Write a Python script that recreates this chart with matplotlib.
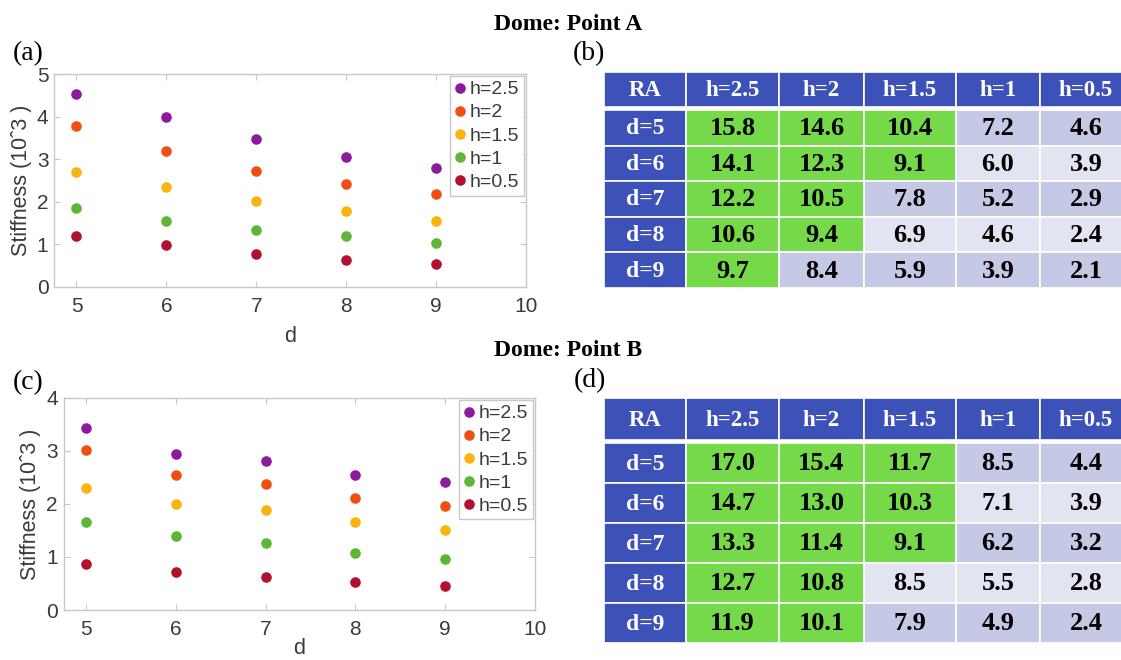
import matplotlib
matplotlib.use("Agg")
import matplotlib.pyplot as plt
from matplotlib.patches import Rectangle

# ---------------- data ----------------
d_values = [5, 6, 7, 8, 9]
h_labels = ["h=2.5", "h=2", "h=1.5", "h=1", "h=0.5"]
row_labels = ["d=5", "d=6", "d=7", "d=8", "d=9"]

# Stiffness (10^3) at point A, one list per h
stiff_a_h25 = [4.54, 4.00, 3.48, 3.04, 2.79]
stiff_a_h20 = [3.77, 3.19, 2.73, 2.42, 2.19]
stiff_a_h15 = [2.69, 2.34, 2.02, 1.78, 1.54]
stiff_a_h10 = [1.85, 1.55, 1.34, 1.19, 1.03]
stiff_a_h05 = [1.19, 0.99, 0.77, 0.63, 0.55]

# Stiffness (10^3) at point B
stiff_b_h25 = [3.43, 2.95, 2.82, 2.55, 2.41]
stiff_b_h20 = [3.01, 2.55, 2.37, 2.12, 1.96]
stiff_b_h15 = [2.30, 2.00, 1.88, 1.66, 1.51]
stiff_b_h10 = [1.66, 1.39, 1.27, 1.07, 0.96]
stiff_b_h05 = [0.86, 0.72, 0.63, 0.53, 0.46]

# RA tables (rows d=5..9, columns h=2.5..0.5)
ra_a = [
    [15.8, 14.6, 10.4, 7.2, 4.6],
    [14.1, 12.3, 9.1, 6.0, 3.9],
    [12.2, 10.5, 7.8, 5.2, 2.9],
    [10.6, 9.4, 6.9, 4.6, 2.4],
    [9.7, 8.4, 5.9, 3.9, 2.1],
]
ra_b = [
    [17.0, 15.4, 11.7, 8.5, 4.4],
    [14.7, 13.0, 10.3, 7.1, 3.9],
    [13.3, 11.4, 9.1, 6.2, 3.2],
    [12.7, 10.8, 8.5, 5.5, 2.8],
    [11.9, 10.1, 7.9, 4.9, 2.4],
]
ra_threshold = 9.0

# ---------------- style ----------------
W, H = 1121, 660
series_colors = ["#8c1a9c", "#f04e12", "#fbb30f", "#5db634", "#b2112d"]
axis_grey = "#c8c8c8"
tick_text = "#3a3a3a"
hdr_blue = "#3d52b8"
cell_green = "#76d94a"
lav_dark = "#c5c9e6"
lav_light = "#e2e4f2"

SANS = ["Liberation Sans", "DejaVu Sans"]
SERIF = ["Liberation Serif", "DejaVu Serif"]

fig = plt.figure(figsize=(W / 100, H / 100), dpi=100)
fig.patch.set_facecolor("white")


def px_axes(left, top, right, bottom):
    return fig.add_axes([left / W, 1 - bottom / H, (right - left) / W, (bottom - top) / H])


def scatter_panel(box, series, ymax, ylab_x, xlab_y):
    left, top, right, bottom = box
    ax = px_axes(left, top, right, bottom)
    for vals, col, lab in zip(series, series_colors, h_labels):
        ax.plot(d_values, vals, "o", ms=6.6, color=col, mec=col, label=lab)
    ax.set_xlim(4.75, 10)
    ax.set_ylim(0, ymax)
    ax.set_xticks([5, 6, 7, 8, 9, 10])
    ax.set_yticks(range(0, ymax + 1))
    for s in ax.spines.values():
        s.set_color(axis_grey)
        s.set_linewidth(1.0)
    ax.tick_params(direction="in", length=4, color=axis_grey, labelcolor=tick_text,
                   top=True, right=True, labelsize=15)
    ax.tick_params(axis="x", pad=7)
    ax.tick_params(axis="y", pad=4)
    for t in ax.get_xticklabels() + ax.get_yticklabels():
        t.set_family(SANS)
    leg = ax.legend(loc="upper right", prop={"family": SANS, "size": 14},
                    handlelength=0.5, handletextpad=0.25, borderpad=0.25,
                    labelspacing=0.28, borderaxespad=0.1, fancybox=False,
                    framealpha=1, edgecolor=axis_grey, markerscale=1.0)
    leg.get_frame().set_linewidth(1.0)
    for t in leg.get_texts():
        t.set_color(tick_text)
    fig.text(ylab_x / W, 1 - ((top + bottom) / 2) / H, "Stiffness (10ˆ3 )",
             rotation=90, ha="center", va="center", fontsize=15.5,
             family=SANS, color=tick_text)
    fig.text(((left + right) / 2) / W, 1 - xlab_y / H, "d", ha="center", va="center",
             fontsize=15.5, family=SANS, color=tick_text)
    return ax


def table_panel(left, top, header_h, gap, row_h, values):
    col_edges = [0, 82, 175, 260, 352, 436, 528]
    span_w = W - left
    total_h = header_h + gap + row_h * len(values)
    ax = px_axes(left, top, W, top + total_h)
    ax.set_xlim(0, span_w)
    ax.set_ylim(total_h, 0)
    ax.axis("off")

    def cell(ci, y0, h, face, text, color, size):
        x0, x1 = col_edges[ci], col_edges[ci + 1]
        ax.add_patch(Rectangle((x0, y0), x1 - x0, h, facecolor=face,
                               edgecolor="white", linewidth=1.2, clip_on=True))
        ax.text((x0 + x1) / 2, y0 + h / 2 + 1, text, ha="center", va="center",
                fontsize=size, fontweight="bold", family=SERIF, color=color)

    # header row
    for ci, lab in enumerate(["RA"] + h_labels):
        cell(ci, 0, header_h, hdr_blue, lab, "white", 16.5)
    # body rows
    for ri, (rlab, row) in enumerate(zip(row_labels, values)):
        y0 = header_h + gap + ri * row_h
        cell(0, y0, row_h, hdr_blue, rlab, "white", 17)
        base = lav_dark if ri % 2 == 0 else lav_light
        for ci, v in enumerate(row):
            face = cell_green if v >= ra_threshold else base
            cell(ci + 1, y0, row_h, face, f"{v:.1f}", "black", 19)
    return ax


# panel (a) and (c): stiffness scatter plots
scatter_panel((54, 74, 526, 287),
              [stiff_a_h25, stiff_a_h20, stiff_a_h15, stiff_a_h10, stiff_a_h05],
              5, 22, 337)
scatter_panel((63.5, 398, 535, 610),
              [stiff_b_h25, stiff_b_h20, stiff_b_h15, stiff_b_h10, stiff_b_h05],
              4, 31, 648)

# panel (b) and (d): RA tables
table_panel(604, 72, 35, 3, 35.6, ra_a)
table_panel(604, 398, 42, 3, 40, ra_b)

# titles and panel letters
fig.text(568 / W, 1 - 25 / H, "Dome: Point A", ha="center", va="center",
         fontsize=17, fontweight="bold", family=SERIF)
fig.text(568 / W, 1 - 351 / H, "Dome: Point B", ha="center", va="center",
         fontsize=17, fontweight="bold", family=SERIF)
for lab, x, y in [("(a)", 28, 54), ("(b)", 589, 54), ("(c)", 28, 383), ("(d)", 590, 381)]:
    fig.text(x / W, 1 - y / H, lab, ha="center", va="center", fontsize=20, family=SERIF)

fig.savefig("out.png", dpi=100, facecolor="white")
